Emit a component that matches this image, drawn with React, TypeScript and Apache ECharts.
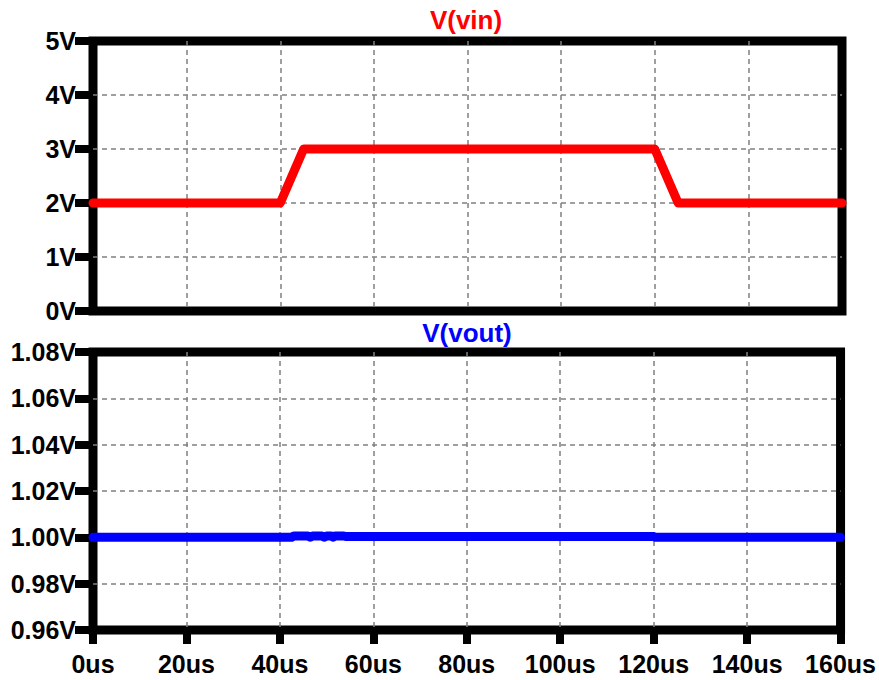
import React, { useEffect, useRef } from "react";
import * as echarts from "echarts";

const timeUs: number[] = [0, 40, 45, 120, 125, 160];
const vin: number[] = [2, 2, 3, 3, 2, 2];

const voutTimeUs: number[] = [0, 40, 42.5, 43, 46, 46.5, 47, 49, 49.5, 50, 51, 51.4, 51.8, 53.5, 54, 120, 120.3, 160];
const vout: number[] = [1.0, 1.0, 1.0, 1.0006, 1.0006, 1.0001, 1.0006, 1.0006, 1.0001, 1.0006, 1.0006, 1.0001, 1.0006, 1.0006, 1.0004, 1.0004, 1.0, 1.0];

const xTicks: number[] = [0, 20, 40, 60, 80, 100, 120, 140, 160];
const titles: string[] = ["V(vin)", "V(vout)"];

const FONT = "Liberation Sans, Arial, sans-serif";

export default function App() {
  const ref = useRef<HTMLDivElement>(null);
  useEffect(() => {
    if (!ref.current) return;
    const chart = echarts.init(ref.current, null, { renderer: "svg" });
    const labelStyle = {
      color: "#000",
      fontFamily: FONT,
      fontWeight: "bold" as const,
      fontSize: 25,
    };
    const split = {
      show: true,
      showMinLine: false,
      showMaxLine: false,
      lineStyle: { color: "#808080", width: 1.5, type: [5, 4] as number[] },
    };
    chart.setOption({
      animation: false,
      backgroundColor: "#fff",
      grid: [
        { left: 93, top: 41, width: 749, height: 270, show: true, borderColor: "#000", borderWidth: 9, backgroundColor: "transparent" },
        { left: 93, top: 352, width: 749, height: 278, show: true, borderColor: "#000", borderWidth: 9, backgroundColor: "transparent" },
      ],
      graphic: [
        { type: "text", x: 466, y: 20, z: 10, style: { text: titles[0], fill: "#ff0000", font: `bold 26px ${FONT}`, textAlign: "center", textVerticalAlign: "middle" } },
        { type: "text", x: 467, y: 333, z: 10, style: { text: titles[1], fill: "#0000ff", font: `bold 26px ${FONT}`, textAlign: "center", textVerticalAlign: "middle" } },
      ],
      xAxis: [
        {
          type: "value", gridIndex: 0, min: xTicks[0], max: xTicks[xTicks.length - 1], interval: 20,
          axisLine: { show: false }, axisTick: { show: false }, axisLabel: { show: false }, splitLine: split,
        },
        {
          type: "value", gridIndex: 1, min: xTicks[0], max: xTicks[xTicks.length - 1], interval: 20,
          axisLine: { show: false },
          axisTick: { show: true, length: 14, lineStyle: { color: "#000", width: 8 } },
          axisLabel: { ...labelStyle, margin: 21, formatter: (v: number) => `${v}us` },
          splitLine: split,
        },
      ],
      yAxis: [
        {
          type: "value", gridIndex: 0, min: 0, max: 5, interval: 1,
          axisLine: { show: false },
          axisTick: { show: true, length: 18, lineStyle: { color: "#000", width: 8 } },
          axisLabel: { ...labelStyle, margin: 17, formatter: (v: number) => `${v}V` },
          splitLine: split,
        },
        {
          type: "value", gridIndex: 1, min: 0.96, max: 1.08, interval: 0.02,
          axisLine: { show: false },
          axisTick: { show: true, length: 18, lineStyle: { color: "#000", width: 8 } },
          axisLabel: { ...labelStyle, margin: 17, formatter: (v: number) => `${v.toFixed(2)}V` },
          splitLine: split,
        },
      ],
      series: [
        {
          type: "line", xAxisIndex: 0, yAxisIndex: 0, showSymbol: false, symbol: "none",
          data: timeUs.map((t, i) => [t, vin[i]]),
          lineStyle: { color: "#ff0000", width: 9, cap: "round", join: "round" },
          z: 5,
        },
        {
          type: "line", xAxisIndex: 1, yAxisIndex: 1, showSymbol: false, symbol: "none",
          data: voutTimeUs.map((t, i) => [t, vout[i]]),
          lineStyle: { color: "#0000ff", width: 9, cap: "round", join: "round" },
          z: 5,
        },
      ],
    });
    return () => chart.dispose();
  }, []);
  return <div ref={ref} style={{ position: "fixed", left: 0, top: 0, width: 879, height: 680 }} />;
}
